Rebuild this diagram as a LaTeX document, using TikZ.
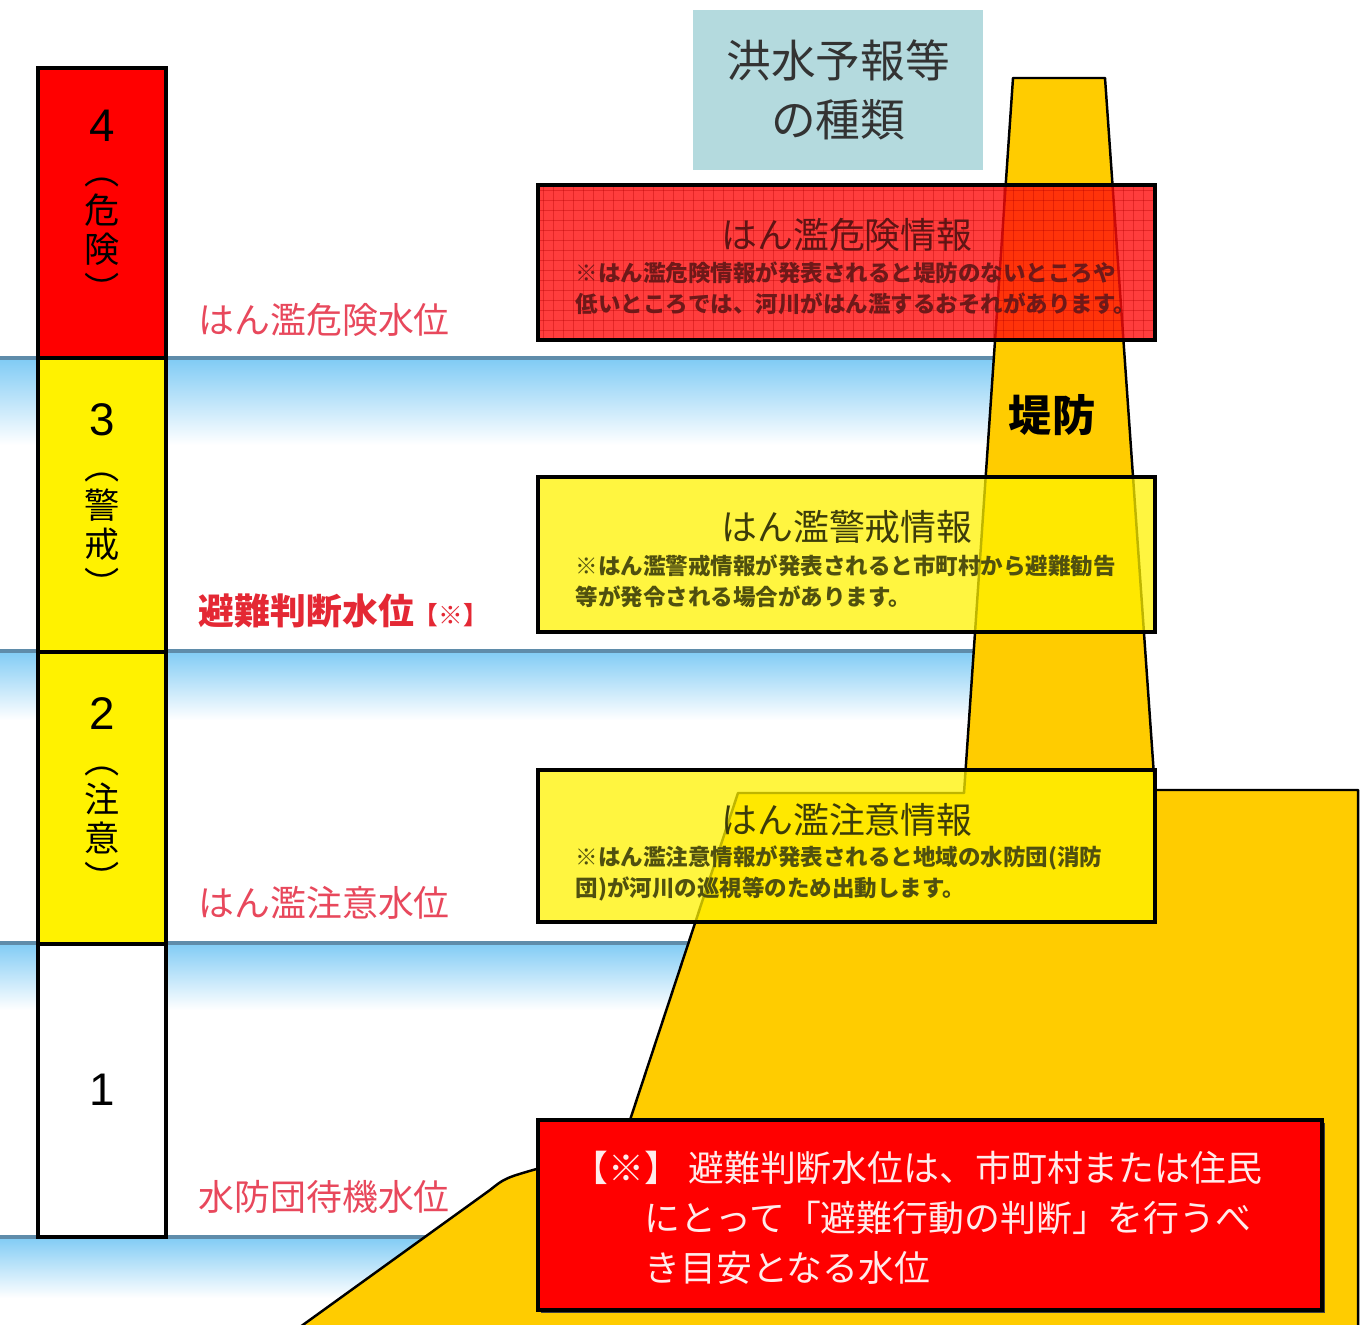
\documentclass[tikz,border=0pt]{standalone}
\usepackage{fontspec}
\setmainfont{Liberation Sans}
\newfontfamily\jp{Noto Sans CJK JP}
\definecolor{embank}{RGB}{255,204,0}
\definecolor{waterline}{RGB}{95,140,170}
\definecolor{watersky}{RGB}{130,204,245}
\definecolor{titleblue}{RGB}{180,218,222}
\definecolor{labelpink}{RGB}{232,72,92}
\definecolor{labelred}{RGB}{228,40,52}
\definecolor{kikenfill}{RGB}{255,13,13}
\definecolor{kikenink}{RGB}{95,20,20}
\definecolor{kikensubink}{RGB}{110,25,25}
\definecolor{keikaiink}{RGB}{60,60,10}
\definecolor{keikaisubink}{RGB}{80,80,15}
\definecolor{notewhite}{RGB}{255,235,235}
\tikzset{
  cell/.style={draw=black, line width=1.1pt},
  waterband/.style={top color=watersky, bottom color=white, draw=none},
  waterlevel/.style={draw=waterline, line width=1pt},
  embankment/.style={fill=embank, draw=black, line width=0.7pt, line join=round},
  levelnum/.style={font=\fontsize{13}{15}\selectfont, inner sep=0pt},
  levelvert/.style={font=\jp\fontsize{10}{11.2}\selectfont, align=center, inner sep=0pt},
  levellabel/.style={font=\jp\fontsize{10.2}{12}\selectfont, text=labelpink, inner sep=0pt, anchor=west},
  titlebox/.style={fill=titleblue, minimum width=2.9cm, minimum height=1.6cm, align=center,
    font=\jp\fontsize{12.7}{17}\selectfont, text=black!80},
  infobox/.style={draw=black, line width=1.2pt},
  gridline/.style={draw=red!70!black, line width=0.15pt, opacity=0.35},
  boxtitle/.style={font=\jp\fontsize{10.2}{12}\selectfont, inner sep=0pt},
  boxsub/.style={font=\jp\bfseries\fontsize{6.4}{8.8}\selectfont, align=left, inner sep=0pt, anchor=west},
  notetext/.style={font=\jp\fontsize{10.2}{14.2}\selectfont, text=notewhite, align=left, inner sep=0pt, anchor=west},
}
\begin{document}
\begin{tikzpicture}[x=0.01cm, y=-0.01cm]
\useasboundingbox (0,0) rectangle (1367,1325);
\clip (0,0) rectangle (1367,1325);
\fill[white] (0,0) rectangle (1367,1325);
\fill[waterband] (0,360) rectangle (1000,445);
\draw[waterlevel] (0,358) -- (1000,358);
\fill[waterband] (0,652) rectangle (1000,720);
\draw[waterlevel] (0,651) -- (1000,651);
\fill[waterband] (0,944) rectangle (760,1010);
\draw[waterlevel] (0,943) -- (760,943);
\fill[waterband] (0,1238) rectangle (600,1298);
\draw[waterlevel] (0,1237) -- (600,1237);
\draw[embankment] (282,1340) -- (490,1190) .. controls (505,1178) .. (540,1168) -- (630,1120) -- (738,793) -- (964,793) -- (1013,78) -- (1105,78) -- (1155,790) -- (1358,790) -- (1358,1340) -- cycle;
\draw[cell, fill=red] (38,68) rectangle (166,358);
\draw[cell, fill=yellow] (38,358) rectangle (166,652);
\draw[cell, fill=yellow] (38,652) rectangle (166,944);
\draw[cell, fill=white] (38,944) rectangle (166,1237);
\node[levelnum] (lv4) at (102,126) {4};
\node[levelvert] (lv4t) at (102,240) {︵\\危\\険\\︶};
\node[levelnum] (lv3) at (102,420) {3};
\node[levelvert] (lv3t) at (102,535) {︵\\警\\戒\\︶};
\node[levelnum] (lv2) at (102,714) {2};
\node[levelvert] (lv2t) at (102,829) {︵\\注\\意\\︶};
\node[levelnum] (lv1) at (102,1090) {1};
\node[levellabel] (kikenlv) at (198,320) {はん濫危険水位};
\node[levellabel, text=labelred, font=\jp\bfseries\fontsize{10.2}{12}\selectfont] (hinanlv) at (198,611) {避難判断水位{\fontsize{7}{8}\selectfont【※】}};
\node[levellabel] (chuuilv) at (198,903) {はん濫注意水位};
\node[levellabel] (taikilv) at (198,1197) {水防団待機水位};
\node[titlebox] (kind) at (838,90) {洪水予報等\\の種類};
\fill[kikenfill, fill opacity=0.8] (538,185) rectangle (1155,340);
\begin{scope}
\clip (538,185) rectangle (1155,340);
\foreach \gx in {543,553,...,1153} \draw[gridline] (\gx,185) -- (\gx,340);
\foreach \gy in {190,200,...,340} \draw[gridline] (538,\gy) -- (1155,\gy);
\end{scope}
\draw[infobox] (538,185) rectangle (1155,340);
\node[boxtitle, text=kikenink] (kiken) at (847,235) {はん濫危険情報};
\node[boxsub, text=kikensubink] (kikennote) at (575,288) {※はん濫危険情報が発表されると堤防のないところや\\低いところでは、河川がはん濫するおそれがあります。};
\draw[infobox, fill=yellow, fill opacity=0.75] (538,477) rectangle (1155,632);
\node[boxtitle, text=keikaiink] (keikai) at (847,527) {はん濫警戒情報};
\node[boxsub, text=keikaisubink] (keikainote) at (575,581) {※はん濫警戒情報が発表されると市町村から避難勧告\\等が発令される場合があります。};
\draw[infobox, fill=yellow, fill opacity=0.75] (538,770) rectangle (1155,922);
\node[boxtitle, text=keikaiink] (chuui) at (847,820) {はん濫注意情報};
\node[boxsub, text=keikaisubink] (chuuinote) at (575,873) {※はん濫注意情報が発表されると地域の水防団(消防\\団)が河川の巡視等のため出動します。};
\node[font=\jp\bfseries\fontsize{12.3}{14}\selectfont, inner sep=0pt] (teibou) at (1052,415) {堤防};
\fill[black!75] (541,1123) rectangle (1325,1313);
\draw[infobox, fill=red] (538,1120) rectangle (1322,1310);
\node[notetext] (note) at (572,1218) {【※】 避難判断水位は、市町村または住民\\\hspace*{2em}にとって「避難行動の判断」を行うべ\\\hspace*{2em}き目安となる水位};
\end{tikzpicture}
\end{document}
